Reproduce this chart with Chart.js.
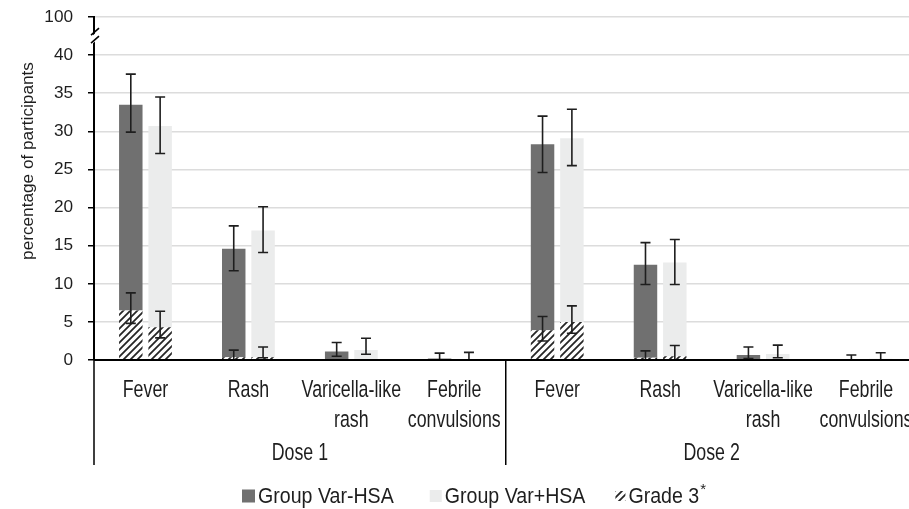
<!DOCTYPE html>
<html><head><meta charset="utf-8">
<script src="https://cdn.jsdelivr.net/npm/chart.js@4/dist/chart.umd.min.js"></script>
<style>
html,body{margin:0;padding:0;overflow:hidden;background:#fff;width:909px;height:509px}
#wrap{width:930px;height:509px;position:relative}
</style></head>
<body><div id="wrap"><canvas id="c" width="930" height="509" style="width:930px;height:509px"></canvas></div>
<script>
// ---------- data ----------
const categories = [['Fever'], ['Rash'], ['Varicella-like', 'rash'], ['Febrile', 'convulsions'],
                    ['Fever'], ['Rash'], ['Varicella-like', 'rash'], ['Febrile', 'convulsions']];
const doses = ['Dose 1', 'Dose 2'];
const yTickLabels = {0:'0',5:'5',10:'10',15:'15',20:'20',25:'25',30:'30',35:'35',40:'40',45:'100'};

const varMinusTotal = [33.5, 14.6, 1.1, 0.2, 28.3, 12.5, 0.65, 0.1];
const varMinusLow   = [29.9, 11.7, 0.5, 0.0, 24.6,  9.9, 0.2, 0.0];
const varMinusHigh  = [37.5, 17.6, 2.3, 0.9, 32.0, 15.4, 1.7, 0.65];
const varPlusTotal  = [30.7, 17.0, 1.3, 0.1, 29.1, 12.8, 0.8, 0.15];
const varPlusLow    = [27.1, 14.1, 0.75, 0.0, 25.5, 9.9, 0.3, 0.0];
const varPlusHigh   = [34.5, 20.1, 2.85, 1.0, 32.9, 15.8, 1.95, 0.95];

const grade3Minus     = [6.5, 0.35, 0, 0, 3.9, 0.3, 0, 0];
const grade3MinusLow  = [4.8, 0.0, null, null, 2.5, 0.0, null, null];
const grade3MinusHigh = [8.8, 1.3, null, null, 5.7, 1.2, null, null];
const grade3Plus      = [4.3, 0.35, 0, 0, 5.0, 0.5, 0, 0];
const grade3PlusLow   = [2.9, 0.3, null, null, 3.5, 0.0, null, null];
const grade3PlusHigh  = [6.4, 1.7, null, null, 7.1, 1.9, null, null];

const legendLabels = ['Group Var-HSA', 'Group Var+HSA', 'Grade 3'];
const yTitle = 'percentage of participants';

// ---------- styles ----------
const DARK = '#707070';
const LIGHT = '#ebecec';
const INK = '#1e1e1e';
const FAM = '"Liberation Sans", Arial, sans-serif';
const XT = 17.8, XS = 1.3;    // x labels size / vertical stretch
const LG = 19.6, LS = 1.16;   // legend
const TT = 17.2;              // y title

function makeHatch(){
  const s = 7;
  const p = document.createElement('canvas');
  p.width = s; p.height = s;
  const g = p.getContext('2d');
  g.fillStyle = '#fff'; g.fillRect(0,0,s,s);
  g.strokeStyle = '#262626'; g.lineWidth = 1.8;
  g.beginPath();
  g.moveTo(-1, s+1); g.lineTo(s+1, -1);
  g.moveTo(-1, 1); g.lineTo(1, -1);
  g.moveTo(s-1, s+1); g.lineTo(s+1, s-1);
  g.stroke();
  return document.getElementById('c').getContext('2d').createPattern(p, 'repeat');
}
const HATCH = makeHatch();

const errorSpecs = [
  {ds: 1, low: varMinusLow, high: varMinusHigh},
  {ds: 3, low: varPlusLow, high: varPlusHigh},
  {ds: 0, low: grade3MinusLow, high: grade3MinusHigh},
  {ds: 2, low: grade3PlusLow, high: grade3PlusHigh},
];

function stretchText(ctx, t, x, y, sy){
  ctx.save(); ctx.translate(x, y); ctx.scale(1, sy); ctx.fillText(t, 0, 0); ctx.restore();
}

const extras = {
  id: 'extras',
  afterDatasetsDraw(chart){
    const ctx = chart.ctx, y = chart.scales.y;
    ctx.save();
    ctx.strokeStyle = INK; ctx.lineWidth = 1.6;
    errorSpecs.forEach(sp => {
      const meta = chart.getDatasetMeta(sp.ds);
      meta.data.forEach((el, i) => {
        if (sp.high[i] == null) return;
        const x = el.x;
        const yl = y.getPixelForValue(sp.low[i]);
        const yh = y.getPixelForValue(sp.high[i]);
        ctx.beginPath();
        ctx.moveTo(x, yl); ctx.lineTo(x, yh);
        ctx.moveTo(x - 5, yh); ctx.lineTo(x + 5, yh);
        if (sp.low[i] > 0.05) { ctx.moveTo(x - 5, yl); ctx.lineTo(x + 5, yl); }
        ctx.stroke();
      });
    });
    ctx.restore();
  },
  afterDraw(chart){
    const ctx = chart.ctx, x = chart.scales.x, y = chart.scales.y, a = chart.chartArea;
    ctx.save();
    // zero line
    ctx.strokeStyle = '#000'; ctx.lineWidth = 2;
    ctx.beginPath(); ctx.moveTo(a.left, a.bottom); ctx.lineTo(a.right, a.bottom); ctx.stroke();
    // group separators
    const sep = (x.getPixelForValue(3) + x.getPixelForValue(4)) / 2;
    const yb = 465;
    ctx.lineWidth = 1.5;
    ctx.beginPath();
    ctx.moveTo(a.left, a.bottom); ctx.lineTo(a.left, yb);
    ctx.moveTo(sep, a.bottom); ctx.lineTo(sep, yb);
    ctx.moveTo(a.right, a.bottom); ctx.lineTo(a.right, yb);
    ctx.stroke();
    // category labels
    ctx.fillStyle = INK;
    ctx.font = XT + 'px ' + FAM;
    ctx.textAlign = 'center'; ctx.textBaseline = 'alphabetic';
    categories.forEach((lines, i) => {
      const cx = x.getPixelForValue(i);
      lines.forEach((t, j) => stretchText(ctx, t, cx, a.bottom + 37 + j * 29.5, XS));
    });
    // dose labels
    doses.forEach((d, k) => {
      const cx = (x.getPixelForValue(k*4 + 1) + x.getPixelForValue(k*4 + 2)) / 2;
      stretchText(ctx, d, cx, 459.5, XS);
    });
    // axis break
    const ybr = (y.getPixelForValue(40) + y.getPixelForValue(45)) / 2;
    ctx.fillStyle = '#fff';
    ctx.beginPath();
    ctx.moveTo(a.left - 3, ybr + 1); ctx.lineTo(a.left + 5, ybr - 6);
    ctx.lineTo(a.left + 5, ybr + 2); ctx.lineTo(a.left - 3, ybr + 9); ctx.closePath(); ctx.fill();
    ctx.strokeStyle = '#000'; ctx.lineWidth = 1.6;
    ctx.beginPath();
    ctx.moveTo(a.left - 3, ybr - 1); ctx.lineTo(a.left + 5, ybr - 8);
    ctx.moveTo(a.left - 3, ybr + 7); ctx.lineTo(a.left + 5, ybr);
    ctx.stroke();
    // y title
    ctx.save();
    ctx.translate(28, 161);
    ctx.rotate(-Math.PI / 2);
    ctx.fillStyle = INK; ctx.font = TT + 'px ' + FAM;
    ctx.textAlign = 'center'; ctx.textBaseline = 'middle';
    ctx.fillText(yTitle, 0, 0);
    ctx.restore();
    // legend
    ctx.font = LG + 'px ' + FAM;
    ctx.textAlign = 'left'; ctx.textBaseline = 'alphabetic';
    const fills = [DARK, LIGHT, HATCH];
    const sizes = [13, 12, 10];
    const gaps = [36, 30, 0];
    let lx = 242;
    const base = 503;
    legendLabels.forEach((t, k) => {
      const s = sizes[k];
      ctx.fillStyle = fills[k];
      ctx.fillRect(lx, 496 - s/2, s, s);
      lx += s + 3;
      ctx.fillStyle = INK;
      stretchText(ctx, t, lx, base, LS);
      lx += ctx.measureText(t).width;
      if (k === 2) {
        ctx.font = '15px ' + FAM;
        ctx.fillText('*', lx + 1, base - 9);
      }
      lx += gaps[k];
    });
    ctx.restore();
  }
};

new Chart(document.getElementById('c'), {
  type: 'bar',
  data: {
    labels: categories,
    datasets: [
      {label: 'Grade 3 (Var-HSA)', data: grade3Minus, stack: 'minus', backgroundColor: HATCH},
      {label: 'Group Var-HSA', data: varMinusTotal.map((v, i) => v - grade3Minus[i]), stack: 'minus', backgroundColor: DARK},
      {label: 'Grade 3 (Var+HSA)', data: grade3Plus, stack: 'plus', backgroundColor: HATCH},
      {label: 'Group Var+HSA', data: varPlusTotal.map((v, i) => v - grade3Plus[i]), stack: 'plus', backgroundColor: LIGHT},
    ]
  },
  options: {
    responsive: false,
    animation: false,
    devicePixelRatio: 1,
    categoryPercentage: 0.57,
    barPercentage: 0.8,
    layout: {padding: {left: 0, right: 12.5, top: 17, bottom: 0}},
    plugins: {legend: {display: false}, tooltip: {enabled: false}, title: {display: false}},
    scales: {
      x: {
        stacked: true,
        grid: {display: false, drawTicks: false},
        border: {display: false},
        ticks: {display: false},
        afterFit(s){ s.height = 149; s.paddingTop = 0; s.paddingBottom = 0; }
      },
      y: {
        stacked: true,
        min: 0, max: 45,
        ticks: {stepSize: 5, color: INK, padding: 15, font: {family: FAM, size: 17.2, lineHeight: 1},
                callback: v => yTickLabels[v]},
        grid: {color: c => c.tick && c.tick.value === 0 ? 'rgba(0,0,0,0)' : '#dcdcdc', lineWidth: 1.5,
               tickColor: '#000', tickLength: 6, tickWidth: 1.5},
        border: {display: true, color: '#000', width: 2},
        afterFit(s){ s.width = 94; s.paddingTop = 0; s.paddingBottom = 0; }
      }
    }
  },
  plugins: [extras]
});
</script>
</body></html>
